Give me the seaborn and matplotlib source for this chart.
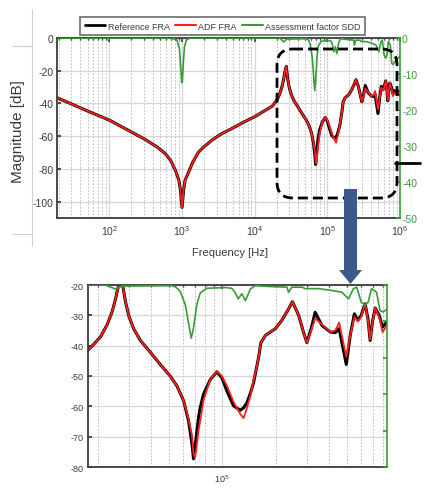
import numpy as np
import seaborn as sns
import matplotlib.pyplot as plt
from matplotlib.lines import Line2D
from matplotlib.patches import FancyBboxPatch, FancyArrow
from matplotlib.ticker import LogLocator, NullFormatter

# --- data ---
freq = [19, 30, 50, 100, 200, 313, 450, 590, 700, 810,
        905, 950, 1000, 1050, 1100, 1230, 1400, 1690, 2000, 2570,
        3500, 4870, 7000, 10000, 15500, 17500, 19000, 20700, 22600, 24100,
        25100, 25900, 26900, 27300, 27800, 28600, 29900, 31900, 34800, 39500,
        45000, 51000, 55700, 60700, 64700, 67600, 69000, 70500, 71400, 73600,
        75200, 78500, 85800, 93400, 99600, 106200, 115700, 126200, 131800, 137700,
        144000, 150000, 155000, 160000, 165000, 175000, 199000, 216000, 236000, 248000,
        269000, 286000, 299000, 316000, 333000, 363000, 405000, 432000, 454000, 498000,
        524000, 553000, 578000, 604000, 635000, 659000, 678000, 698000, 724000, 762000,
        796000, 841000, 900000, 950000, 1000000]

ref_db = [-36.5, -40.3, -44.6, -50.2, -57.4, -62.1, -66.5, -70.7, -75.0, -80.9,
          -87, -93, -103.5, -93, -87, -82, -76, -69.7, -66.5, -62.5,
          -58.5, -55.3, -51.5, -48.1, -43, -41.6, -39.5, -37.1, -33.0, -28.7,
          -24.8, -21.2, -18, -17.4, -21.2, -25.5, -30.3, -34.6, -38.4, -42.2,
          -46.3, -50, -53.3, -58.2, -64.8, -72.4, -77.3, -73, -70.2, -63.7,
          -60.5, -56, -51.1, -48.6, -50.6, -54.9, -59.8, -61.3, -60.5, -58.8,
          -55.7, -52.2, -48, -44, -39, -36.6, -34.4, -31.7, -27.9, -25.5,
          -30, -35.5, -39, -34.4, -29, -33.3, -35.5, -35.7, -34.4, -46.2,
          -36.6, -29.5, -31.7, -30, -26.2, -31.1, -38.3, -32.2, -27.6, -30,
          -33.9, -32.2, -34, -32.5, -35]

adf_db = [-36.5, -40.3, -44.6, -50.2, -57.4, -62.1, -66.5, -70.7, -75.0, -80.9,
          -87, -93, -103.5, -93, -87, -82, -76, -69.7, -66.5, -62.5,
          -58.5, -55.3, -51.5, -48.1, -43, -41.6, -39.5, -37.1, -33.0, -28.7,
          -24.8, -21.2, -18, -17.4, -21.2, -25.5, -30.3, -34.6, -38.4, -42.2,
          -46.3, -50, -53.3, -58.2, -64.3, -69.5, -75.7, -76.8, -74.5, -68,
          -64.8, -58, -51, -48.5, -50, -53.2, -58.5, -62.5, -63.9, -60.5,
          -56.5, -51.4, -48, -44, -39, -36.6, -34.4, -31.7, -27.9, -25.5,
          -30, -35.5, -39, -35, -31, -33, -35.5, -35, -32.4, -43.7,
          -36.6, -30.5, -32, -30.5, -26.2, -31.5, -38, -32.5, -27.6, -30.5,
          -35.5, -33.5, -34, -33, -34]

sdd_freq = [19, 700, 850, 920, 960, 990, 1010, 1040, 1080, 1150, 1300, 22000, 25100,
            27500, 52000, 55000, 58100, 62000, 65400, 67000, 69000, 72000, 75200, 82000,
            104000, 113000, 118000, 123000, 129000, 135000, 144000, 153000, 182000,
            231000, 236000, 246000, 281000, 292000, 348000, 414000, 470000, 513000,
            546000, 570000, 604000, 635000, 661000, 690000, 737000, 770000, 800000,
            841000, 900000, 1000000]
sdd_val = [0, 0, -0.5, -3, -8, -12.4, -12, -7, -2.5, -0.5, 0, 0, -1.1, -0.3, -0.2, -0.6,
           -1.8, -5.4, -11.8, -14.6, -11.8, -5.4, -2.2, -0.9, -0.7, -0.9, -2, -3.8, -2.4,
           -4.3, -1.1, -0.2, -0.4, -0.6, -2, -0.6, -0.6, -1, -1, -1.5, -2, -3.8, -1, -0.6,
           -4.7, -5.6, -4.7, -1, -2, -7, -7.4, -6.7, -6, -5]

assert len(freq) == len(ref_db) == len(adf_db)
assert len(sdd_freq) == len(sdd_val)

left_ticks_top = [-100, -80, -60, -40, -20, 0]
left_ticks_zoom = [-80, -70, -60, -50, -40, -30, -20]
right_ticks = [-50, -40, -30, -20, -10, 0]

GREEN = '#3a9a3a'
RED = '#ff1e1e'
DARK = '#3a3a3a'

sns.set_theme(style='white')
plt.rcParams['font.family'] = ['Liberation Sans', 'DejaVu Sans']
plt.rcParams['axes.unicode_minus'] = False

W, H = 425, 489
fig = plt.figure(figsize=(W / 100, H / 100), dpi=100)


def px_box(l, t, r, b):
    return [l / W, 1 - b / H, (r - l) / W, (b - t) / H]


def style_axes(a, ar, xlim, ylim, yticks, size, right_labels):
    a.set_xscale('log')
    sns.lineplot(x=freq, y=ref_db, ax=a, color='black', lw=2.2, legend=False)
    sns.lineplot(x=freq, y=adf_db, ax=a, color=RED, lw=1.3, legend=False)
    sns.lineplot(x=sdd_freq, y=sdd_val, ax=ar, color=GREEN, lw=1.2, legend=False)
    a.set_xlim(*xlim)
    a.set_ylim(*ylim)
    a.set_yticks(yticks)
    ar.set_ylim(-50, 0)
    ar.set_yticks(right_ticks)
    a.xaxis.set_major_locator(LogLocator(base=10, numticks=12))
    a.xaxis.set_minor_locator(LogLocator(base=10, subs=np.arange(2, 10), numticks=12))
    a.xaxis.set_minor_formatter(NullFormatter())
    a.grid(which='major', color='#d6d6d6', lw=0.9, ls='-')
    a.grid(which='minor', axis='x', color='#b4b4b4', lw=0.6, ls=(0, (2, 2)))
    a.set_xlabel('')
    a.set_ylabel('')
    a.tick_params(axis='both', which='major', direction='in', length=3, labelsize=size,
                  colors=DARK, top=True, pad=2.5)
    a.tick_params(axis='x', which='minor', direction='in', length=1.5, top=True, colors=DARK)
    a.tick_params(axis='x', which='major', pad=4)
    ar.tick_params(axis='y', direction='in', length=3, labelsize=size, colors=GREEN,
                   pad=1.5, labelright=right_labels)
    ar.set_ylabel('')
    for s in ['left', 'top', 'bottom']:
        a.spines[s].set_color(DARK)
        a.spines[s].set_linewidth(1.3)
        ar.spines[s].set_visible(False)
    a.spines['right'].set_visible(False)
    ar.spines['right'].set_color(GREEN)
    ar.spines['right'].set_linewidth(1.2)


# --- main panel ---
ax = fig.add_axes(px_box(57, 39, 400, 219))
ax_r = ax.twinx()
style_axes(ax, ax_r, (19, 1e6), (-110, 0), left_ticks_top, 7.5, True)

# --- zoomed panel ---
zx = fig.add_axes(px_box(87.5, 286, 386.7, 468))
zx_r = zx.twinx()
style_axes(zx, zx_r, (1.75e4, 8.4e5), (-80, -20), left_ticks_zoom, 6.5, False)

fig.text(230 / W, 1 - 253 / H, 'Frequency [Hz]', ha='center', va='center',
         fontsize=8, color=DARK)
fig.text(18 / W, 1 - 132 / H, 'Magnitude [dB]', ha='center', va='center', rotation=90,
         fontsize=11, color=DARK)

handles = [Line2D([], [], color='black', lw=2),
           Line2D([], [], color=RED, lw=1.5),
           Line2D([], [], color=GREEN, lw=1.5)]
leg = fig.legend(handles, ['Reference FRA', 'ADF FRA', 'Assessment factor SDD'],
                 loc='center', bbox_to_anchor=(222.5 / W, 1 - 27 / H), ncol=3,
                 fontsize=6.5, frameon=True, fancybox=False, edgecolor='#555555',
                 handlelength=2.3, handletextpad=0.25, columnspacing=0.6,
                 borderpad=0.45, borderaxespad=0)
leg.get_frame().set_linewidth(1.3)
for t in leg.get_texts():
    t.set_color(DARK)

# --- annotations drawn in pixel space ---
ov = fig.add_axes([0, 0, 1, 1])
ov.set_xlim(0, W)
ov.set_ylim(H, 0)
ov.axis('off')
ov.patch.set_alpha(0)

ov.plot([31.7, 31.7], [10, 247], color='#cfcfcf', lw=0.8)
ov.plot([12, 31.7], [47, 47], color='#cfcfcf', lw=0.8)
ov.plot([12, 31.7], [235, 235], color='#cfcfcf', lw=0.8)

ov.add_patch(FancyBboxPatch((277, 50), 120, 149, boxstyle='round,pad=0,rounding_size=16',
                            fill=False, ec='black', lw=2, ls=(0, (3.6, 1.8))))
ov.plot([395, 420], [164, 164], color='black', lw=2)
ov.add_patch(FancyArrow(350.5, 190, 0, 95, width=13, head_width=23, head_length=14,
                        length_includes_head=True, color='#3b5a8c', lw=0))

fig.savefig('out.png', dpi=100)
